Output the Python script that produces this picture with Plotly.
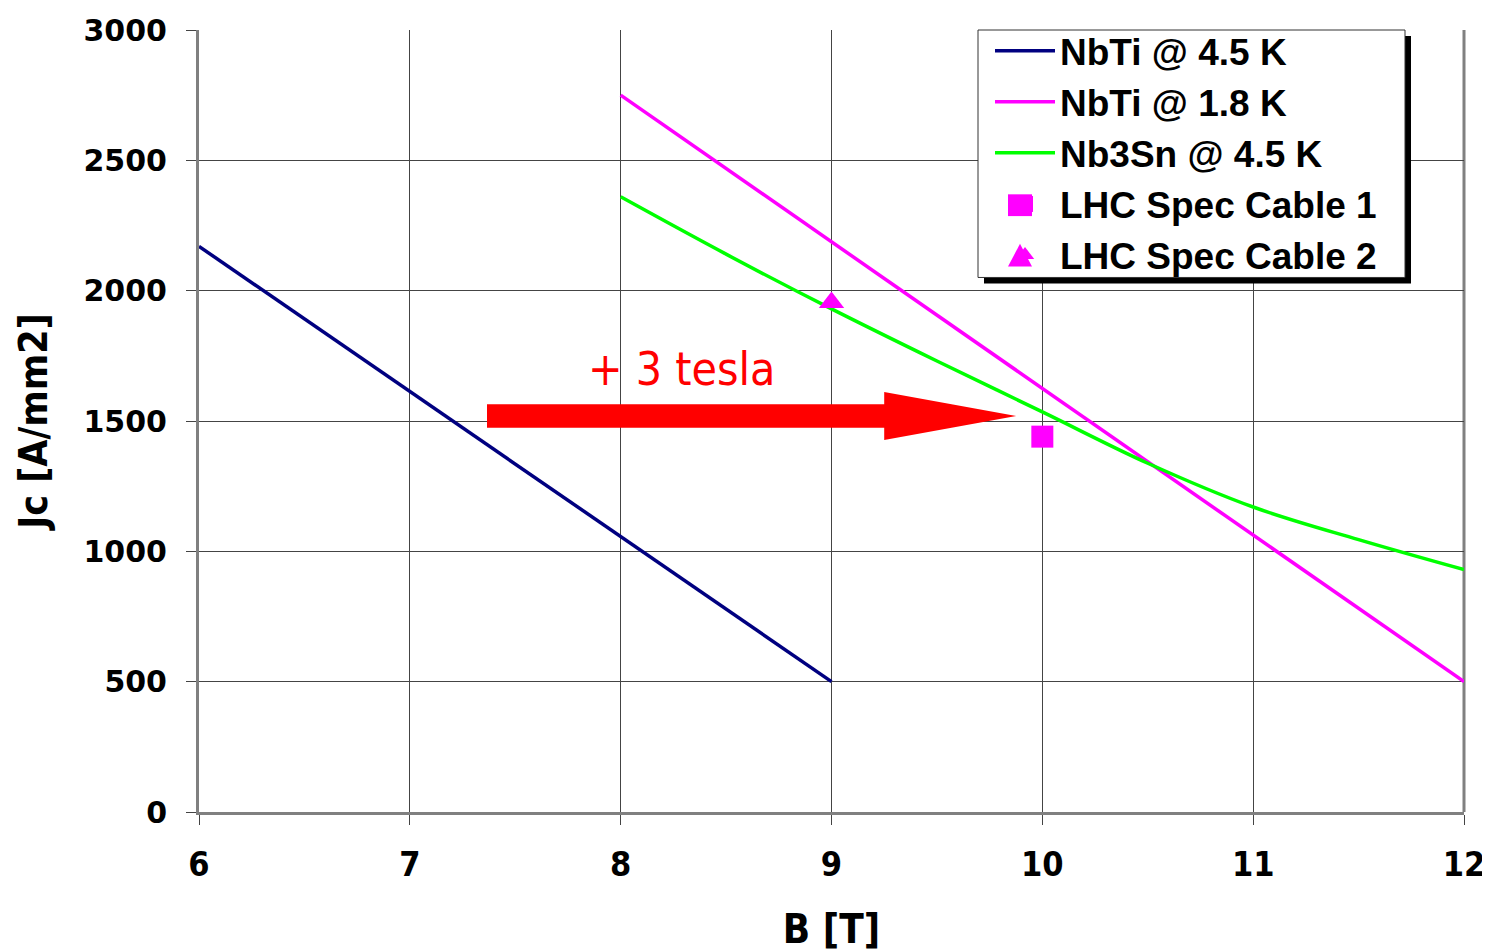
import plotly.graph_objects as go

# Data
nbti45_B = [6, 9]
nbti45_J = [2170, 500]
nbti18_B = [8, 12]
nbti18_J = [2750, 500]
nb3sn_B = [8, 8.5, 9, 9.5, 10, 10.5, 11, 11.5, 12]
nb3sn_J = [2360, 2140, 1930, 1730, 1535, 1338, 1170, 1045, 930]
cable1_B = [10]
cable1_J = [1440]
cable2_B = [9]
cable2_J = [1955]

arrow_x = [7.366, 9.25, 9.876]   # tail, head base, tip
arrow_y = 1519
arrow_shaft_half = 45
arrow_head_half = 92

OFF = 8  # page body margin
W, H = 1490, 952
PL, PR, PT, PB = 199, 1464, 22, 812   # plot area in screen pixels
L, R, T, B = PL - OFF, (W + OFF) - PR, PT - OFF, (H + OFF) - PB

fig = go.Figure()
fig.add_trace(go.Scatter(x=nbti45_B, y=nbti45_J, mode="lines", name="NbTi @ 4.5 K",
                         line=dict(color="#000080", width=3.5)))
fig.add_trace(go.Scatter(x=nbti18_B, y=nbti18_J, mode="lines", name="NbTi @ 1.8 K",
                         line=dict(color="#ff00ff", width=3.5)))
fig.add_trace(go.Scatter(x=nb3sn_B, y=nb3sn_J, mode="lines", name="Nb3Sn @ 4.5 K",
                         line=dict(color="#00ff00", width=3.5, shape="spline", smoothing=1.0)))
fig.add_trace(go.Scatter(x=cable1_B, y=cable1_J, mode="markers", name="LHC Spec Cable 1",
                         marker=dict(symbol="square", color="#ff00ff", size=22)))
fig.add_trace(go.Scatter(x=cable2_B, y=cable2_J, mode="markers", name="LHC Spec Cable 2",
                         marker=dict(symbol="triangle-up", color="#ff00ff", size=22)))

# arrow shape (data coordinates built from the arrays above)
x0, xh, xt = arrow_x
ys, yh = arrow_shaft_half, arrow_head_half
path = (f"M {x0},{arrow_y-ys} L {xh},{arrow_y-ys} L {xh},{arrow_y-yh} L {xt},{arrow_y} "
        f"L {xh},{arrow_y+yh} L {xh},{arrow_y+ys} L {x0},{arrow_y+ys} Z")
shapes = [dict(type="path", path=path, xref="x", yref="y", fillcolor="#ff0000",
               line=dict(width=0), layer="above")]

def px2paper(px, py):
    return (px - PL) / (PR - PL), 1 - (py - PT) / (PB - PT)

# legend box with shadow
lx0, ly0, lx1, ly1 = 978, 22, 1405, 272
sx0, sy0 = px2paper(lx0 + 6, ly0 + 6)
sx1, sy1 = px2paper(lx1 + 6, ly1 + 6)
shapes.append(dict(type="rect", xref="paper", yref="paper", x0=sx0, y0=sy0, x1=sx1, y1=sy1,
                   fillcolor="black", line=dict(width=0), layer="above"))
bx0, by0 = px2paper(lx0, ly0)
bx1, by1 = px2paper(lx1, ly1)
shapes.append(dict(type="rect", xref="paper", yref="paper", x0=bx0, y0=by0, x1=bx1, y1=by1,
                   fillcolor="white", line=dict(width=1, color="#333333"), layer="above"))
# larger legend symbols (Excel-style legend keys)
q0 = px2paper(1008, 188); q1 = px2paper(1032, 210)
shapes.append(dict(type="rect", xref="paper", yref="paper", x0=q0[0], y0=q0[1], x1=q1[0], y1=q1[1],
                   fillcolor="#ff00ff", line=dict(width=0), layer="above"))
ta = px2paper(1020, 238); tb = px2paper(1008, 261); tc = px2paper(1032, 261)
shapes.append(dict(type="path", xref="paper", yref="paper",
                   path=f"M {ta[0]},{ta[1]} L {tb[0]},{tb[1]} L {tc[0]},{tc[1]} Z",
                   fillcolor="#ff00ff", line=dict(width=0), layer="above"))
# right border at x=12
shapes.append(dict(type="line", xref="paper", yref="paper", x0=1, x1=1, y0=0, y1=1,
                   line=dict(color="#808080", width=3), layer="below"))

lgx, lgy = px2paper(990, 12)

fig.update_layout(
    width=W, height=H,
    margin=dict(l=L, r=R, t=T, b=B),
    plot_bgcolor="white", paper_bgcolor="white",
    shapes=shapes,
    annotations=[dict(x=8.29, y=1700, xref="x", yref="y", text="+ 3 tesla", showarrow=False,
                      font=dict(family="DejaVu Sans Condensed", size=46, color="#ff0000"))],
    legend=dict(x=lgx, y=lgy, xanchor="left", yanchor="top",
                bgcolor="rgba(0,0,0,0)", borderwidth=0,
                font=dict(family="Liberation Sans", size=37, color="black", weight="bold"),
                tracegroupgap=0, itemwidth=60),
    xaxis=dict(range=[6, 12], dtick=1, tick0=6, showgrid=True, gridcolor="#444444", gridwidth=1,
               showline=True, linecolor="#808080", linewidth=3, mirror=False,
               ticks="outside", ticklen=10, tickcolor="#444444", automargin=False,
               tickfont=dict(family="DejaVu Sans Condensed", size=34, color="black", weight="bold"),
               ticklabelstandoff=10, zeroline=False,
               title=dict(text="B [T]", standoff=33,
                          font=dict(family="DejaVu Sans Condensed", size=40, color="black", weight="bold"))),
    yaxis=dict(range=[0, 3000], dtick=500, showgrid=True, gridcolor="#444444", gridwidth=1,
               showline=True, linecolor="#808080", linewidth=3, automargin=False,
               ticks="outside", ticklen=10, tickcolor="#444444",
               tickfont=dict(family="DejaVu Sans", size=30, color="black", weight="bold"),
               ticklabelstandoff=13, zeroline=False,
               title=dict(text="Jc [A/mm2]", standoff=24,
                          font=dict(family="DejaVu Sans Condensed", size=39, color="black", weight="bold"))),
)

fig.write_html("out.html")
